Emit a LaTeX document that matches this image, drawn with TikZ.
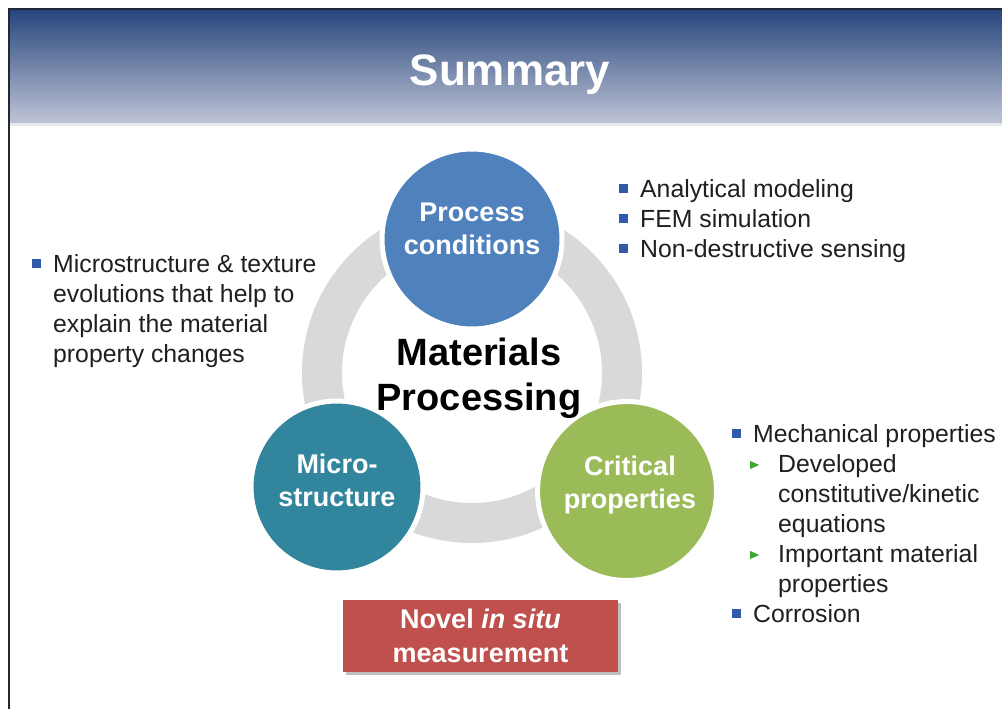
\documentclass[tikz,border=0pt]{standalone}
\usepackage{fontspec}
\setmainfont{Liberation Sans}
\usetikzlibrary{shadows}

\definecolor{titletop}{RGB}{38,69,124}
\definecolor{titlebot}{RGB}{190,196,214}
\definecolor{titleedge}{RGB}{230,233,240}
\definecolor{frameline}{RGB}{35,40,55}
\definecolor{ringgray}{RGB}{217,217,217}
\definecolor{procblue}{RGB}{79,129,189}
\definecolor{microteal}{RGB}{49,133,156}
\definecolor{critgreen}{RGB}{155,187,89}
\definecolor{boxred}{RGB}{192,80,77}
\definecolor{bulletblue}{RGB}{50,90,170}
\definecolor{bulletgreen}{RGB}{60,170,50}

% square and triangle list markers, hung to the left of the text
\newcommand{\sqbullet}{\llap{\textcolor{bulletblue}{\rule[4pt]{9.5pt}{9.5pt}}\hspace{12pt}}}
\newcommand{\tribullet}{\llap{\tikz[x=1pt,y=1pt,baseline=0pt]\fill[bulletgreen] (0,3)--(0,11)--(9,7)--cycle;\hspace{19pt}}}

\tikzset{
  listtext/.style={anchor=base west, inner sep=0pt, text=black!88,
    font=\fontsize{24.8}{30}\selectfont},
  bubble/.style={circle, draw=white, line width=5pt, inner sep=0pt,
    drop shadow={opacity=0.35, shadow xshift=1.5pt, shadow yshift=-1.5pt}},
  bubbletext/.style={align=center, text=white, inner sep=0pt,
    font=\bfseries\fontsize{27}{33}\selectfont},
  redbox/.style={fill=boxred, minimum width=275pt, minimum height=72pt,
    inner sep=0pt, align=center, text=white,
    font=\bfseries\fontsize{27}{34}\selectfont,
    drop shadow={opacity=0.5, shadow xshift=3pt, shadow yshift=-3pt}},
}

\begin{document}
\begin{tikzpicture}[x=1pt,y=-1pt]
\useasboundingbox (0,0) rectangle (1002,709);
\fill[white] (0,0) rectangle (1002,709);

% title bar
\shade[top color=titletop, bottom color=titlebot] (9,9) rectangle (1002,123);
\fill[titleedge] (9,123) rectangle (1002,126);
\draw[frameline, line width=2pt] (9,709) -- (9,9) -- (1002,9);
\node[anchor=base, text=white, font=\bfseries\fontsize{44}{50}\selectfont] (title) at (510,86) {Summary};

% ring behind the three topics
\draw[ringgray, line width=40pt] (472,373) circle[radius=150];

% topic circles
\node[bubble, fill=procblue, minimum size=180pt] (proc) at (472,239) {};
\node[bubble, fill=microteal, minimum size=172pt] (micro) at (337,487) {};
\node[bubble, fill=critgreen, minimum size=179pt] (crit) at (627,491) {};

\node[bubbletext] (proctext) at (472,229) {Process\\conditions};
\node[bubbletext] (microtext) at (337,480) {Micro-\\structure};
\node[bubbletext] (crittext) at (630,485) {Critical\\properties};

% centre title
\node[align=center, inner sep=0pt, font=\bfseries\fontsize{38}{45}\selectfont] (center) at (479,378) {Materials\\Processing};

% measurement box
\node[redbox] (meas) at (480.5,636) {Novel \textit{in situ}\\measurement};

% modelling list
\node[listtext] (m1) at (640,197) {\sqbullet Analytical modeling};
\node[listtext] (m2) at (640,227) {\sqbullet FEM simulation};
\node[listtext] (m3) at (640,257) {\sqbullet Non-destructive sensing};

% microstructure list
\node[listtext] (s1) at (53,272) {\sqbullet Microstructure \& texture};
\node[listtext] (s2) at (53,302) {evolutions that help to};
\node[listtext] (s3) at (53,332) {explain the material};
\node[listtext] (s4) at (53,362) {property changes};

% properties list
\node[listtext] (p1) at (753,442) {\sqbullet Mechanical properties};
\node[listtext] (p2) at (778,472) {\tribullet Developed};
\node[listtext] (p3) at (778,502) {constitutive/kinetic};
\node[listtext] (p4) at (778,532) {equations};
\node[listtext] (p5) at (778,562) {\tribullet Important material};
\node[listtext] (p6) at (778,592) {properties};
\node[listtext] (p7) at (753,622) {\sqbullet Corrosion};
\end{tikzpicture}
\end{document}
